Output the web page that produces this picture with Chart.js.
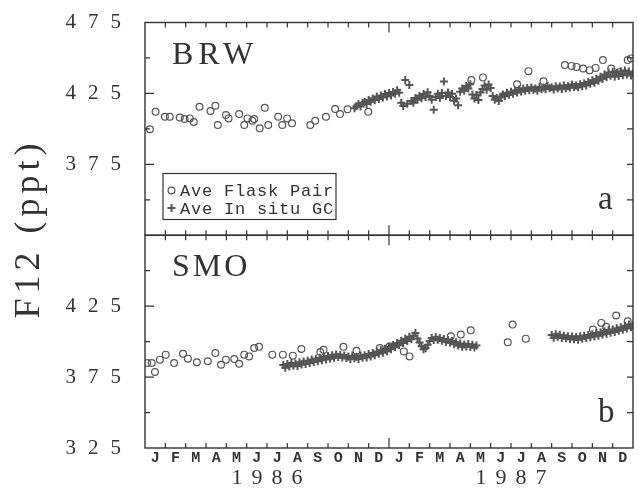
<!DOCTYPE html>
<html><head><meta charset="utf-8">
<script src="https://cdn.jsdelivr.net/npm/chart.js@4.4.1/dist/chart.umd.min.js"></script>
<style>html,body{margin:0;padding:0;background:#fff;}canvas{display:block;}</style>
</head><body>
<canvas id="c" width="639" height="489"></canvas>
<script>
// ---- labels ----
const monthLabels = ['J','F','M','A','M','J','J','A','S','O','N','D','J','F','M','A','M','J','J','A','S','O','N','D'];
const yearLabels = ['1986', '1987'];
const yearCenters = [6, 18];
const yTicksBRW = [375, 425, 475];
const yTicksSMO = [325, 375, 425];
const stationLabels = ['BRW', 'SMO'];
const panelLetters = ['a', 'b'];
const seriesLabels = ['Ave Flask Pair', 'Ave In situ GC'];
const yTitle = 'F12 (ppt)';

// ---- data: time in months since 1 Jan 1986 ----
const brwFlaskT = [0.24,0.52,0.98,1.22,1.71,1.95,2.2,2.4,2.68,3.22,3.46,3.58,3.98,4.11,4.63,4.88,5.04,5.28,5.37,5.64,5.89,6.06,6.55,6.75,6.99,7.23,8.13,8.37,8.9,9.35,9.59,9.96,10.98,16.05,16.62,18.3,18.86,19.6,20.65,20.98,21.22,21.55,21.87,22.16,22.52,22.93,23.3,23.74,23.9];
const brwFlaskV = [399.7,412.1,408.5,408.5,408,407,407.4,404.8,415.6,412.6,416.3,402.7,409.7,407.4,410.4,402.7,407.4,405.7,407,400.4,414.9,402.7,408.5,402.7,407.4,403.9,402.7,405.7,408.5,414,410.4,413.8,412,434.4,436.3,431.5,440.7,433.5,445,444.4,443.7,442.6,441.4,443,448.5,442.6,440,448.5,449.7];

const gcStep = 0.1;
const brwGcStart = 10.3;
const brwGcV = [
414.5,416,417.5,415.8,418.2,419,417.6,420.4,419.2,421.5,
420.2,422.8,421,423.5,422.2,424.6,422.8,425.3,423.6,426,
424.7,427.2,425.5,418.5,416.2,434.5,417.8,431,419.6,418.4,
421.8,420.5,423.4,421.6,424.6,422.4,425.8,423.2,420.6,413.5,
422.4,424.8,421.7,425.3,433.4,423.2,425.6,422.5,424.8,419.8,
421.4,416.6,426.2,428.4,426.8,430.2,428.5,431.4,424.2,421.5,
423.8,420.4,425.6,428.2,430.5,427.6,431.2,428.8,423.2,420.5,
421.8,419.6,422.8,424.2,423,425.4,424.1,426.2,424.8,427,
425.6,427.8,426.3,428.4,426.9,428.8,427.2,429.1,427.6,428.4,
426.8,429.6,427.9,429.2,428,430.3,428.6,429.4,427.8,430.1,
428.5,429.8,428.2,430.5,428.7,430,429.2,431.1,429.5,430.6,
429.3,431.4,430,432.2,430.6,433,431.8,434.2,432.6,435.4,
434,436.8,435.2,438.4,436.6,439.8,437.5,440.2,436.8,439.4,
437.2,440.6,437.8,441.2,438.4,440.5,437.6,439.2];

const smoFlaskT = [0.11,0.33,0.49,0.73,1.02,1.43,1.87,2.11,2.55,3.09,3.46,3.74,3.98,4.39,4.63,4.88,5.12,5.37,5.61,6.26,6.78,7.27,7.69,8.62,8.78,9.76,10.4,11.55,12.03,12.73,13.01,15.04,15.53,16.02,17.84,18.08,18.73,22.03,22.44,22.68,23.17,23.74];
const smoFlaskV = [384.9,384.9,378.6,387.3,390.8,384.9,391.5,388,385.4,386.1,392,383.7,387.3,387.8,384.4,390.8,389.6,395.5,396.3,390.8,390.8,390.1,394.8,392.7,394.3,396.3,393.5,395.5,396.7,393.1,389.6,403.8,405,408,399.5,412,402.1,408.5,413.2,410.4,418.4,414.4];

const smoGcStartA = 6.8;
const smoGcVA = [
383.5,381.5,384.2,382.4,385,383,384.6,382.8,385.4,383.8,
386,384.2,386.6,385,387.4,385.6,388,386.2,388.6,386.8,
389.2,387.4,389.8,388,390.4,388.6,391,389.2,390.6,388.8,
390.2,388.4,389.6,387.6,390,388.2,389.4,387.8,390.2,388.6,
390.4,388.8,391.2,389.6,392,390.4,393,391.4,394,392.2,
395,393.2,396.2,394.6,397.6,396,399,397.4,400.6,399,
402,400.4,403.4,401.6,404.2,406,402.2,399.4,396.8,394.6,
395.4,397.8,400.4,402.6,401.2,403,401.4,402.6,400.6,401.8,
399.8,401.2,399.4,400.4,398.2,399.6,397.2,398.6,396.4,398,
396.6,398.4,396.2,397.8,395.8,397.2];
const smoGcStartB = 20.0;
const smoGcVB = [
404.6,402.8,405.2,403.4,404.8,402.6,404.2,402.4,403.8,401.8,
403.6,401.6,403.2,401.4,403.8,402,404.2,402.6,404.6,403,
405.2,403.6,406,404.2,406.6,405,407.4,405.6,408.2,406.2,
408.6,406.8,409.4,407.6,410.2,408.4,411.2,409.2,412,410.2,
411.4];

// ---- build points ----
function pairs(t, v) { return t.map((x, i) => ({x: x, y: v[i]})); }
function gcPoints(start, vals) { return vals.map((v, i) => ({x: Math.round((start + i * gcStep) * 100) / 100, y: v})); }

const SERIF = "'Liberation Serif', 'Times New Roman', serif";
const MONO = "'Liberation Mono', 'Courier New', monospace";
const INK = '#333';
const MARK = '#555';

const labelSpacing = {x: 0, xYear: 9, yBRW: 12, ySMO: 12};

const decor = {
  id: 'decor',
  afterLayout(chart) {
    for (const id in labelSpacing) {
      const s = chart.scales[id];
      if (!s || s._wrappedLabels) continue;
      const orig = s.drawLabels;
      const L = labelSpacing[id];
      const horiz = s.isHorizontal();
      s.drawLabels = function (area) {
        const ctx = chart.ctx;
        ctx.save();
        ctx.letterSpacing = L + 'px';
        if (horiz) ctx.translate(L / 2, 0);
        orig.call(this, area);
        ctx.restore();
      };
      s._wrappedLabels = true;
    }
  },
  afterDraw(chart) {
    const ctx = chart.ctx;
    const x = chart.scales.x;
    const panels = [chart.scales.yBRW, chart.scales.ySMO];
    const L = x.left, R = x.right;
    ctx.save();
    ctx.strokeStyle = INK;
    panels.forEach(ys => {
      const T = ys.top, B = ys.bottom;
      ctx.lineWidth = 1.4;
      ctx.strokeRect(L, T, R - L, B - T);
      ctx.beginPath();
      for (let v = 325; v <= 475; v += 25) {
        if (v === 325 || v === 475) continue;
        const py = ys.getPixelForValue(v);
        const len = (v % 50 === 25) ? 9 : 5;
        ctx.moveTo(L, py); ctx.lineTo(L + len, py);
        ctx.moveTo(R, py); ctx.lineTo(R - 6, py);
      }
      for (let m = 1; m < 24; m++) {
        const px = x.getPixelForValue(m);
        const len = (m === 12) ? 10 : 5;
        ctx.moveTo(px, T); ctx.lineTo(px, T + len);
        ctx.moveTo(px, B); ctx.lineTo(px, B - len);
      }
      ctx.lineWidth = 1.2;
      ctx.stroke();
    });

    // station names and panel letters
    ctx.fillStyle = INK;
    ctx.textBaseline = 'alphabetic';
    ctx.textAlign = 'left';
    ctx.font = '32px ' + SERIF;
    ctx.letterSpacing = '5px';
    ctx.fillText(stationLabels[0], L + 27, panels[0].top + 41);
    ctx.letterSpacing = '3px';
    ctx.fillText(stationLabels[1], L + 27, panels[1].top + 41);
    ctx.letterSpacing = '0px';
    ctx.font = '33px ' + SERIF;
    ctx.fillText(panelLetters[0], R - 35, panels[0].bottom - 26);
    ctx.fillText(panelLetters[1], R - 35, panels[1].bottom - 26);

    // legend box
    const bx = L + 18, by = panels[0].top + 151, bw = 173, bh = 46;
    ctx.lineWidth = 1.2;
    ctx.strokeStyle = INK;
    ctx.strokeRect(bx, by, bw, bh);
    const ds = chart.data.datasets;
    const rows = [by + 17, by + 34.5];
    [0, 1].forEach(i => {
      const d = ds[i];
      ctx.strokeStyle = d.borderColor;
      ctx.fillStyle = 'rgba(0,0,0,0)';
      ctx.lineWidth = d.borderWidth;
      Chart.helpers.drawPoint(ctx, {pointStyle: d.pointStyle, radius: d.pointRadius, borderWidth: d.borderWidth}, bx + 8.5, rows[i]);
    });
    ctx.fillStyle = INK;
    ctx.font = '17px ' + MONO;
    ctx.letterSpacing = '0.8px';
    ctx.textBaseline = 'middle';
    ctx.fillText(ds[0].label, bx + 17, rows[0] + 1);
    ctx.fillText(ds[1].label, bx + 17, rows[1] + 1);

    // y title
    ctx.translate(30, 231);
    ctx.rotate(-Math.PI / 2);
    ctx.font = '36px ' + SERIF;
    ctx.letterSpacing = '5px';
    ctx.textAlign = 'center';
    ctx.textBaseline = 'middle';
    ctx.fillText(yTitle, 2.5, 0);
    ctx.restore();
  }
};

function yScale(ticksArr) {
  return {
    type: 'linear', position: 'left', stack: 'panels', stackWeight: 1,
    min: 325, max: 475,
    afterBuildTicks: s => { s.ticks = ticksArr.map(v => ({value: v})); },
    afterFit: s => { s.width = 145; },
    grid: {display: false, drawTicks: false}, border: {display: false},
    ticks: {color: INK, padding: 12, font: {family: SERIF, size: 21, lineHeight: 1}, autoSkip: false}
  };
}

new Chart(document.getElementById('c'), {
  type: 'scatter',
  data: {
    datasets: [
      {label: seriesLabels[0], data: pairs(brwFlaskT, brwFlaskV), yAxisID: 'yBRW', pointStyle: 'circle', pointRadius: 3.4, borderWidth: 1.2, borderColor: MARK, backgroundColor: 'rgba(0,0,0,0)', order: 1},
      {label: seriesLabels[1], data: gcPoints(brwGcStart, brwGcV), yAxisID: 'yBRW', pointStyle: 'cross', pointRadius: 4, borderWidth: 2, borderColor: MARK, backgroundColor: MARK, order: 2},
      {label: stationLabels[1] + ' ' + seriesLabels[0], data: pairs(smoFlaskT, smoFlaskV), yAxisID: 'ySMO', pointStyle: 'circle', pointRadius: 3.4, borderWidth: 1.2, borderColor: MARK, backgroundColor: 'rgba(0,0,0,0)', order: 1},
      {label: stationLabels[1] + ' ' + seriesLabels[1], data: gcPoints(smoGcStartA, smoGcVA).concat(gcPoints(smoGcStartB, smoGcVB)), yAxisID: 'ySMO', pointStyle: 'cross', pointRadius: 4, borderWidth: 2, borderColor: MARK, backgroundColor: MARK, order: 2}
    ]
  },
  options: {
    responsive: false,
    animation: false,
    events: [],
    layout: {padding: {top: 22, right: 2, left: 0, bottom: 0}},
    plugins: {legend: {display: false}, tooltip: {enabled: false}},
    scales: {
      x: {
        type: 'linear', position: 'bottom', min: 0, max: 24,
        afterBuildTicks: s => { s.ticks = monthLabels.map((_, i) => ({value: i + 0.5})); },
        afterFit: s => { s.height = 20; },
        grid: {display: false, drawTicks: false}, border: {display: false},
        ticks: {color: INK, padding: 3, autoSkip: false, maxRotation: 0, minRotation: 0,
          font: {family: MONO, size: 15, weight: 'bold', lineHeight: 1},
          callback: v => monthLabels[Math.floor(v)]}
      },
      xYear: {
        type: 'linear', position: 'bottom', min: 0, max: 24,
        afterBuildTicks: s => { s.ticks = yearCenters.map(v => ({value: v})); },
        afterFit: s => { s.height = 21; },
        grid: {display: false, drawTicks: false}, border: {display: false},
        ticks: {color: INK, padding: -1, autoSkip: false, maxRotation: 0, minRotation: 0,
          font: {family: SERIF, size: 22, lineHeight: 1},
          callback: (v, i) => yearLabels[i]}
      },
      ySMO: yScale(yTicksSMO),
      yBRW: yScale(yTicksBRW)
    }
  },
  plugins: [decor]
});
</script>
</body></html>
